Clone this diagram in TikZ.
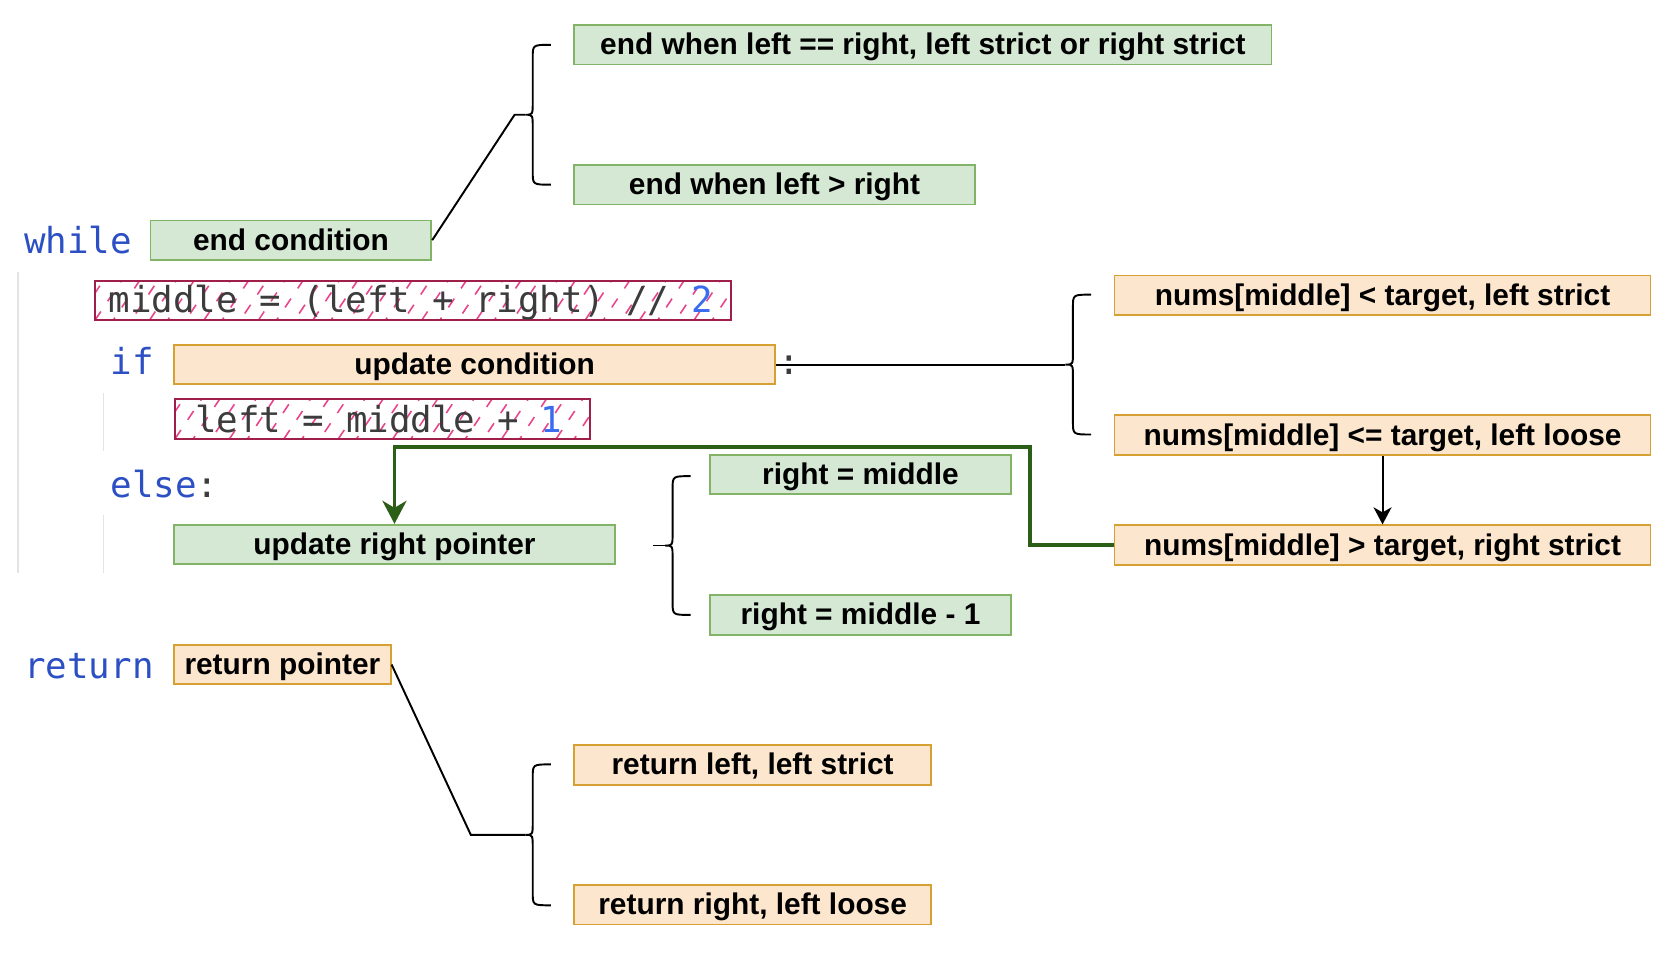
\documentclass[tikz,border=0pt]{standalone}
\usepackage{fontspec}
\setmainfont{Liberation Sans}
\newfontfamily\codefont{DejaVu Sans Mono}
\usetikzlibrary{arrows.meta,calc}

\definecolor{greenfill}{HTML}{D5E8D4}
\definecolor{greenedge}{HTML}{82B366}
\definecolor{orangefill}{HTML}{FDE6CE}
\definecolor{orangeedge}{HTML}{D6A032}
\definecolor{codeedge}{HTML}{A01E4A}
\definecolor{hatchpink}{HTML}{E8458C}
\definecolor{arrowgreen}{HTML}{2B5E17}
\definecolor{kwblue}{HTML}{2D4FC4}
\definecolor{numblue}{HTML}{3A6CF0}
\definecolor{codegray}{HTML}{3C3C3C}
\definecolor{guidegray}{HTML}{E4E4E4}

\newcommand{\pxu}{0.010676cm}

\tikzset{
  box/.style={draw, line width=0.5pt, inner sep=0pt, minimum height=37*\pxu,
    text height=6.2pt, text depth=0.5pt,
    font=\fontsize{8.5}{10}\selectfont\bfseries, text=black},
  greenbox/.style={box, fill=greenfill, draw=greenedge, minimum width=#1*\pxu},
  orangebox/.style={box, fill=orangefill, draw=orangeedge, minimum width=#1*\pxu},
  hatchline/.style={draw=hatchpink, line width=0.45pt, dash pattern=on 3pt off 3.5pt},
  codebox/.style={draw=codeedge, line width=0.6pt, inner sep=0pt,
    minimum height=37*\pxu, minimum width=#1*\pxu,
    path picture={\foreach \k in {-3,...,40}{
      \pgfmathsetmacro\ph{mod(\k+3,3)*2.1}
      \draw[hatchline, dash phase=\ph pt]
        ($(path picture bounding box.south west)+(\k*17,0)$) -- ++(36,-54);}}},
  code/.style={inner sep=0pt, text=codegray, font=\codefont\fontsize{10.2}{12}\selectfont},
  guide/.style={draw=guidegray, line width=0.5pt},
  link/.style={draw=black, line width=0.55pt},
  blackarrow/.style={link, -{Stealth[length=1.7mm,width=1.8mm,inset=0.5mm]}},
  greenarrow/.style={draw=arrowgreen, line width=1.1pt,
    -{Stealth[length=2.3mm,width=2.4mm,inset=0.7mm]}}
}

% curly bracket: name of tip, tip x, top y, bottom y
\newcommand{\drawbrace}[4]{%
  \coordinate (#1) at (#2,{(#3+#4)/2});
  \draw[link] (#2+24,#3) .. controls (#2+7,#3) .. (#2+7,#3+12)
    -- (#2+7,{(#3+#4)/2-12}) .. controls (#2+7,{(#3+#4)/2}) .. (#1)
    .. controls (#2+7,{(#3+#4)/2}) .. (#2+7,{(#3+#4)/2+12})
    -- (#2+7,#4-12) .. controls (#2+7,#4) .. (#2+24,#4);
}

\begin{document}
\begin{tikzpicture}[x=0.010676cm, y=-0.010676cm]
  \useasboundingbox (0,0) rectangle (1568,897);

  % Indent guides of the code
  \draw[guide] (17,255) -- (17,537);
  \draw[guide] (97,368) -- (97,422);
  \draw[guide] (97,482) -- (97,537);

  % Code keywords
  \node[code, anchor=base west] (kwwhile) at (22,237) {\textcolor{kwblue}{while}};
  \node[code, anchor=base west] (kwif) at (103,351) {\textcolor{kwblue}{if}};
  \node[code, anchor=base west] (kwelse) at (103,466) {\textcolor{kwblue}{else}:};
  \node[code, anchor=base west] (kwreturn) at (22,636) {\textcolor{kwblue}{return}};

  % Hatched code lines
  \node[codebox=596] (midbox) at (387,281.5) {};
  \node[code, anchor=base west] (midcode) at (101,293)
    {middle = (left + right) // \textcolor{numblue}{2}};
  \node[codebox=389] (leftbox) at (358.5,392.5) {};
  \node[code, anchor=base west] (leftcode) at (182,405)
    {left = middle + \textcolor{numblue}{1}};

  % Labels
  \node[greenbox=263] (endc) at (272.5,225) {end condition};
  \node[greenbox=653] (endeq) at (864.5,42) {end when left == right, left strict or right strict};
  \node[greenbox=375] (endgt) at (725.5,173) {end when left > right};
  \node[orangebox=563] (updc) at (444.5,341.5) {update condition};
  \node[orangebox=502] (ltstrict) at (1295,276.5) {nums[middle] < target, left strict};
  \node[orangebox=502] (leloose) at (1295,407.5) {nums[middle] <= target, left loose};
  \node[orangebox=502] (gtstrict) at (1295,510.5) {nums[middle] > target, right strict};
  \node[greenbox=413] (rptr) at (369.5,510) {update right pointer};
  \node[greenbox=282] (rmid) at (806,444.5) {right = middle};
  \node[greenbox=282] (rmidone) at (806,576) {right = middle - 1};
  \node[orangebox=203] (retp) at (264.5,622.5) {return pointer};
  \node[orangebox=334] (retl) at (705,716.5) {return left, left strict};
  \node[orangebox=334] (retr) at (705,847.5) {return right, left loose};

  % Brackets
  \drawbrace{endtip}{492}{42}{173}
  \drawbrace{updtip}{998}{276}{407}
  \drawbrace{rtip}{623}{446}{576}
  \drawbrace{rettip}{492}{716}{848}

  % Connectors
  \draw[link] (endc.east) -- (482,107.5) -- (endtip);
  \draw[link] (updc.east) -- (updtip);
  \node[code, anchor=base west] (colon) at (729,351) {:};
  \coordinate (rstub) at (612,511);
  \draw[link] (rstub) -- (rtip);
  \draw[link] (retp.east) -- (441,782) -- (rettip);
  \draw[blackarrow] (leloose) -- (gtstrict);
  \draw[greenarrow] (gtstrict.west) -| (965,419) -| (rptr.north);
\end{tikzpicture}
\end{document}
